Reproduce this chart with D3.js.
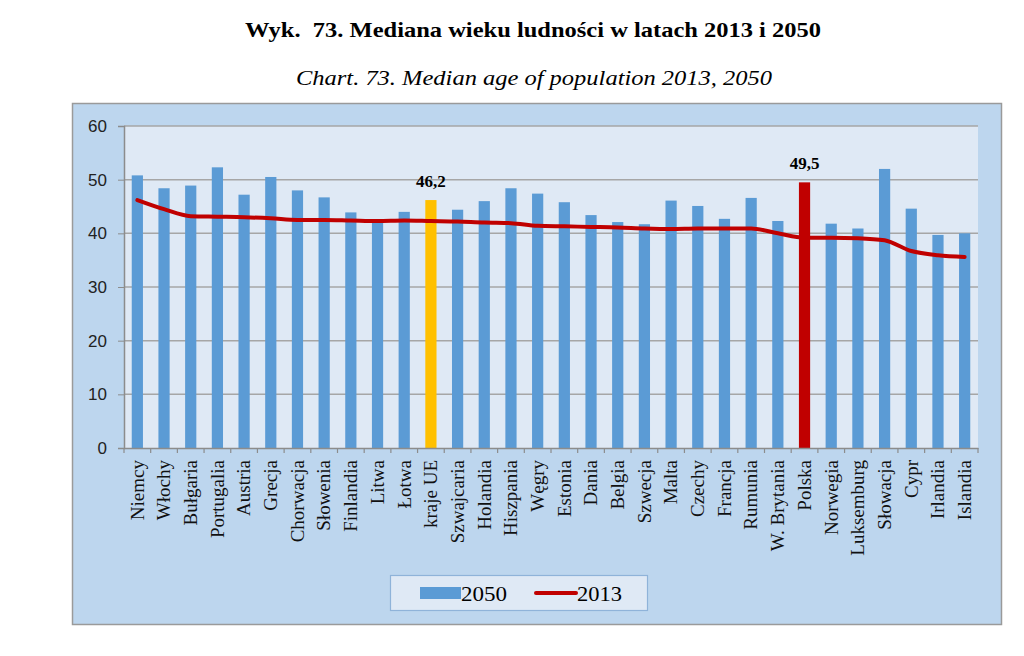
<!DOCTYPE html>
<html><head><meta charset="utf-8">
<script src="https://cdn.jsdelivr.net/npm/d3@7"></script>
<style>body{margin:0;background:#fff}svg{display:block}</style>
</head><body>
<svg id="c" width="1024" height="656"></svg>
<script>
const categories = ["Niemcy","Włochy","Bułgaria","Portugalia","Austria","Grecja","Chorwacja","Słowenia","Finlandia","Litwa","Łotwa","kraje UE","Szwajcaria","Holandia","Hiszpania","Węgry","Estonia","Dania","Belgia","Szwecja","Malta","Czechy","Francja","Rumunia","W. Brytania","Polska","Norwegia","Luksemburg","Słowacja","Cypr","Irlandia","Islandia"];
const values2050 = [50.8,48.4,48.9,52.3,47.2,50.5,48.0,46.7,43.9,42.2,44.0,46.2,44.4,46.0,48.4,47.4,45.8,43.4,42.1,41.7,46.1,45.1,42.7,46.6,42.3,49.5,41.8,40.9,52.0,44.6,39.7,40.0];
const values2013 = [46.2,44.5,43.2,43.1,43.0,42.8,42.5,42.5,42.4,42.3,42.4,42.3,42.2,42.0,41.9,41.4,41.3,41.2,41.1,40.9,40.8,40.9,40.9,40.9,40.0,39.2,39.2,39.1,38.7,36.7,35.9,35.6];
const yTicks = [0,10,20,30,40,50,60];
const highlight = {"kraje UE":"#ffc000","Polska":"#c00000"};
const labelled = ["kraje UE","Polska"];

const svg = d3.select("#c");
// titles
svg.append("text").attr("x",533).attr("y",37).attr("text-anchor","middle").attr("xml:space","preserve")
  .attr("font-family","Liberation Serif").attr("font-weight","bold").attr("font-size",22)
  .attr("textLength",576).attr("lengthAdjust","spacingAndGlyphs")
  .text("Wyk.\u00a0 73. Mediana wieku ludności w latach 2013 i 2050");
svg.append("text").attr("x",534).attr("y",85).attr("text-anchor","middle")
  .attr("font-family","Liberation Serif").attr("font-style","italic").attr("font-size",21)
  .attr("textLength",476).attr("lengthAdjust","spacingAndGlyphs")
  .text("Chart. 73. Median age of population 2013, 2050");

// outer box
svg.append("rect").attr("x",72.5).attr("y",103.5).attr("width",929).attr("height",521)
  .attr("fill","#bdd6ee").attr("stroke","#9a9a9a").attr("stroke-width",1.5);

const L=124, R=978, T=126, B=448;
const x = d3.scaleBand().domain(categories).range([L,R]).paddingInner(0.58).paddingOuter(0.29);
const y = d3.scaleLinear().domain([0,60]).range([B,T]);

svg.append("rect").attr("x",L).attr("y",T).attr("width",R-L).attr("height",B-T).attr("fill","#dfe9f5");

// grid
svg.append("g").selectAll("line").data(yTicks.filter(d=>d>0)).join("line")
  .attr("x1",L).attr("x2",R).attr("y1",d=>y(d)).attr("y2",d=>y(d))
  .attr("stroke","#a6a6a6").attr("stroke-width",1.5);

// bars
svg.append("g").selectAll("rect").data(categories).join("rect")
  .attr("x",d=>x(d)).attr("width",x.bandwidth())
  .attr("y",(d,i)=>y(values2050[i])).attr("height",(d,i)=>B-y(values2050[i]))
  .attr("fill",d=>highlight[d]||"#5b9bd5");

// line
const line = d3.line().x((d,i)=>x(categories[i])+x.bandwidth()/2).y(d=>y(d)).curve(d3.curveMonotoneX);
svg.append("path").datum(values2013).attr("d",line).attr("fill","none")
  .attr("stroke","#c00000").attr("stroke-width",4).attr("stroke-linecap","round");

// data labels
svg.append("g").selectAll("text").data(labelled).join("text")
  .attr("x",d=>x(d)+x.bandwidth()/2).attr("y",d=>y(values2050[categories.indexOf(d)])-13)
  .attr("text-anchor","middle").attr("font-family","Liberation Serif").attr("font-weight","bold").attr("font-size",17)
  .text(d=>d3.format(".1f")(values2050[categories.indexOf(d)]).replace(".",","));

// y axis
const ya = svg.append("g").attr("transform",`translate(${L},0)`)
  .call(d3.axisLeft(y).tickValues(yTicks).tickSize(6).tickPadding(11));
ya.select(".domain").attr("stroke","#8c8c8c").attr("stroke-width",1.5);
ya.selectAll(".tick line").attr("stroke","#8c8c8c");
ya.selectAll("text").attr("font-family","Liberation Sans").attr("font-size",17).attr("fill","#222");

// x axis
const xa = svg.append("g").attr("transform",`translate(0,${B})`)
  .call(d3.axisBottom(x).tickSize(0).tickPadding(0));
xa.select(".domain").attr("stroke","#8c8c8c").attr("stroke-width",1.5);
xa.selectAll(".tick text").attr("font-family","Liberation Serif").attr("font-size",19).attr("fill","#111")
  .attr("transform","rotate(-90)").attr("text-anchor","end").attr("dy","0.33em").attr("x",-12).attr("y",0);
xa.append("g").selectAll("line").data(d3.range(categories.length+1)).join("line")
  .attr("x1",i=>L+i*(R-L)/categories.length).attr("x2",i=>L+i*(R-L)/categories.length)
  .attr("y1",0).attr("y2",5).attr("stroke","#8c8c8c").attr("stroke-width",1.2);

// legend
const lg = svg.append("g");
lg.append("rect").attr("x",390.5).attr("y",575.5).attr("width",257).attr("height",35)
  .attr("fill","#dfe9f5").attr("stroke","#8fb3d9").attr("stroke-width",1.2);
lg.append("rect").attr("x",420).attr("y",587).attr("width",41).attr("height",12).attr("fill","#5b9bd5");
lg.append("text").attr("x",461).attr("y",601).attr("font-family","Liberation Serif").attr("font-size",22)
  .attr("textLength",46).attr("lengthAdjust","spacingAndGlyphs").text("2050");
lg.append("line").attr("x1",536).attr("x2",576).attr("y1",593).attr("y2",593).attr("stroke","#c00000").attr("stroke-width",4).attr("stroke-linecap","round");
lg.append("text").attr("x",577).attr("y",601).attr("font-family","Liberation Serif").attr("font-size",22)
  .attr("textLength",45).attr("lengthAdjust","spacingAndGlyphs").text("2013");
</script>
</body></html>
